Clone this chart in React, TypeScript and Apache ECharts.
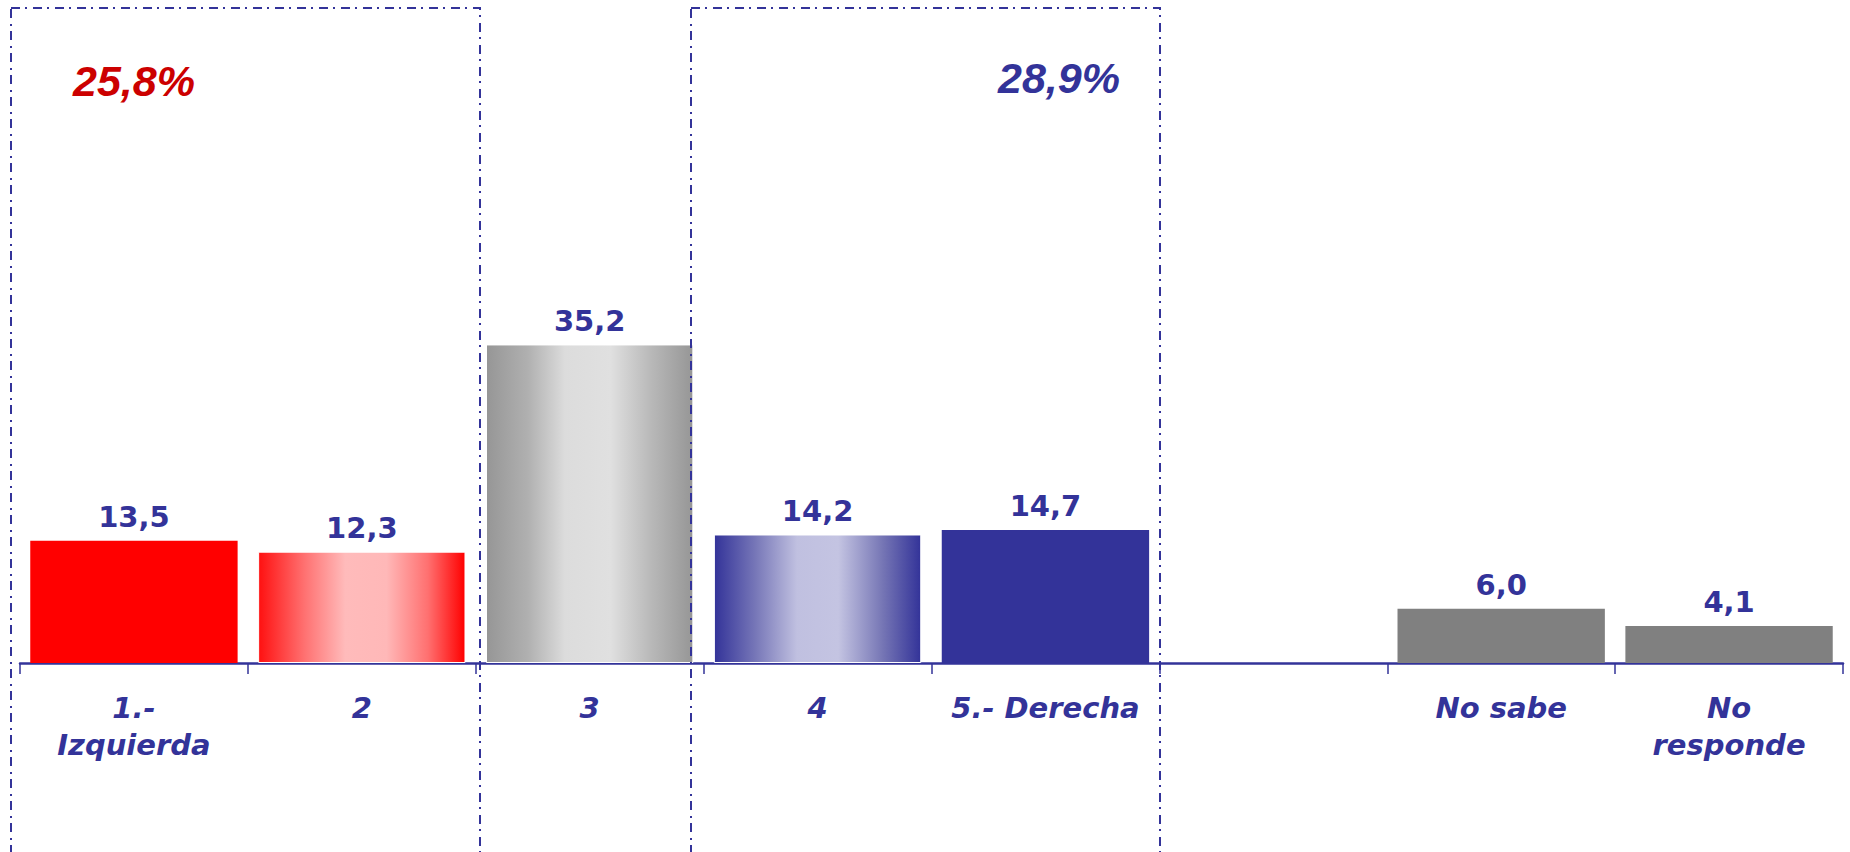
import React, { useEffect, useRef } from "react";
import * as echarts from "echarts";

const categories = ["1.-\nIzquierda", "2", "3", "4", "5.- Derecha", "", "No sabe", "No\nresponde"];
const values: (number | null)[] = [13.5, 12.3, 35.2, 14.2, 14.7, null, 6.0, 4.1];
const groupTotals = ["25,8%", "28,9%"];

const BLUE = "#333399";

const grad = (stops: [number, string][]) =>
  new echarts.graphic.LinearGradient(0, 0, 1, 0, stops.map(([offset, color]) => ({ offset, color })));

const barColors: any[] = [
  "#FF0000",
  grad([[0, "#FF1010"], [0.22, "#FF7070"], [0.42, "#FFBBBB"], [0.62, "#FFB8B8"], [0.82, "#FF7070"], [1, "#FF0000"]]),
  grad([[0, "#969696"], [0.2, "#B0B0B0"], [0.38, "#DCDCDC"], [0.6, "#E0E0E0"], [0.8, "#B8B8B8"], [1, "#969696"]]),
  grad([[0, "#333399"], [0.2, "#7777B8"], [0.4, "#C0C0E0"], [0.6, "#C4C4E2"], [0.82, "#7474B4"], [1, "#333399"]]),
  BLUE,
  "#808080",
  "#808080",
  "#808080",
];

export default function App() {
  const ref = useRef<HTMLDivElement>(null);
  useEffect(() => {
    document.body.style.margin = "0";
    const chart = echarts.init(ref.current!, null, { renderer: "svg" });
    const dash = [9, 5, 2, 6];
    chart.setOption({
      animation: false,
      backgroundColor: "#FFFFFF",
      grid: { left: 20, right: 7, top: 29.5, bottom: 189, containLabel: false },
      xAxis: {
        type: "category",
        data: categories,
        axisLine: { lineStyle: { color: BLUE, width: 2.5 } },
        axisTick: { show: true, length: 11, lineStyle: { color: BLUE, width: 1.5 } },
        axisLabel: {
          interval: 0,
          color: BLUE,
          fontFamily: "DejaVu Sans",
          fontWeight: "bold",
          fontStyle: "italic",
          fontSize: 29,
          lineHeight: 37,
          margin: 26,
        },
      },
      yAxis: { type: "value", min: 0, max: 70, show: false, splitLine: { show: false } },
      series: [
        {
          type: "bar",
          barCategoryGap: "9%",
          data: values.map((v, i) => ({
            value: v,
            itemStyle: {
              color: barColors[i],
              borderColor: i >= 1 && i <= 3 ? "#FFFFFF" : undefined,
              borderWidth: i >= 1 && i <= 3 ? 1 : 0,
            },
          })),
          label: {
            show: true,
            position: "top",
            distance: 9,
            color: BLUE,
            fontFamily: "DejaVu Sans",
            fontWeight: "bold",
            fontSize: 29,
            formatter: (p: any) => (p.value == null ? "" : Number(p.value).toFixed(1).replace(".", ",")),
          },
        },
      ],
      graphic: [
        {
          type: "rect",
          silent: true,
          shape: { x: 11, y: 8, width: 469, height: 900 },
          style: { fill: "none", stroke: BLUE, lineWidth: 2, lineDash: dash },
          z: 10,
        },
        {
          type: "rect",
          silent: true,
          shape: { x: 691, y: 8, width: 469, height: 900 },
          style: { fill: "none", stroke: BLUE, lineWidth: 2, lineDash: dash },
          z: 10,
        },
        {
          type: "text",
          x: 134,
          y: 81,
          style: {
            text: groupTotals[0],
            fill: "#CC0000",
            font: "italic bold 43px 'Liberation Sans', Arial, sans-serif",
            textAlign: "center",
            textVerticalAlign: "middle",
          },
        },
        {
          type: "text",
          x: 1059,
          y: 78,
          style: {
            text: groupTotals[1],
            fill: BLUE,
            font: "italic bold 43px 'Liberation Sans', Arial, sans-serif",
            textAlign: "center",
            textVerticalAlign: "middle",
          },
        },
      ],
    });
    return () => chart.dispose();
  }, []);
  return <div ref={ref} style={{ width: 1850, height: 852 }} />;
}
